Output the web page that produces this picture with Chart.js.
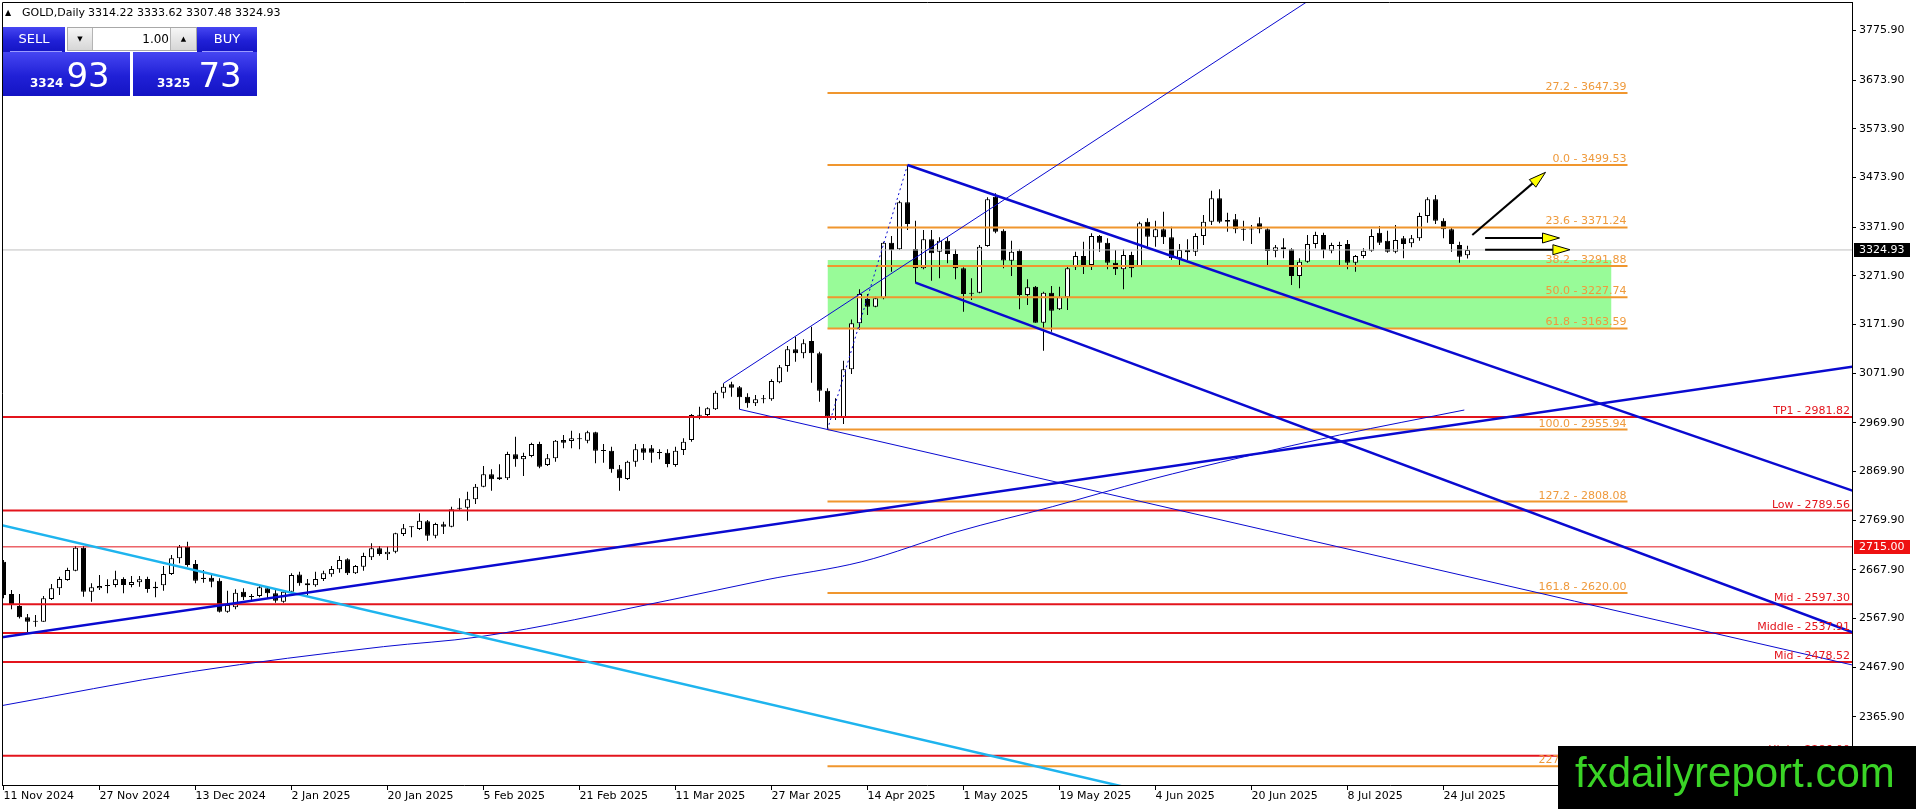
<!DOCTYPE html>
<html><head><meta charset="utf-8">
<script src="https://cdn.jsdelivr.net/npm/chart.js@4.4.1/dist/chart.umd.min.js"></script>
<style>
html,body{margin:0;padding:0;background:#fff;overflow:hidden;}
#wrap{position:relative;width:1916px;height:809px;font-family:"DejaVu Sans",sans-serif;}
canvas{display:block;position:absolute;left:0;top:0;}
.abs{position:absolute;}
.bx{position:absolute;background:linear-gradient(to bottom,#4646f2 0%,#2020d6 55%,#1414c4 100%);}
.wt{color:#fff;}
</style></head><body>
<div id="wrap">
<canvas id="c" width="1916" height="809"></canvas>
<div class="abs" style="left:5px;top:6px;font-size:8px;line-height:14px;">▲</div>
<div class="abs" style="left:22px;top:6px;font-size:11px;line-height:14px;white-space:nowrap;">GOLD,Daily</div>
<div class="abs" style="left:88px;top:6px;font-size:11px;line-height:14px;white-space:nowrap;">3314.22 3333.62 3307.48 3324.93</div>
<div class="bx" style="left:3px;top:27px;width:62px;height:25px;"></div>
<div class="bx" style="left:197px;top:27px;width:60px;height:25px;"></div>
<div class="bx" style="left:3px;top:52px;width:127px;height:44px;"></div>
<div class="bx" style="left:133px;top:52px;width:124px;height:44px;"></div>
<div class="abs" style="left:10px;top:51px;width:52px;height:1px;background:#9a9aff;"></div>
<div class="abs" style="left:202px;top:51px;width:51px;height:1px;background:#9a9aff;"></div>
<div class="abs wt" style="left:3px;top:27px;width:62px;height:24px;line-height:24px;text-align:center;font-size:13px;">SELL</div>
<div class="abs wt" style="left:197px;top:27px;width:60px;height:24px;line-height:24px;text-align:center;font-size:13px;">BUY</div>
<div class="abs" style="left:67px;top:27px;width:128px;height:22px;background:#fff;border:1px solid #a8a8a8;">
  <div class="abs" style="left:0;top:0;width:24px;height:22px;background:linear-gradient(#f6f6f6,#d6d6d6);border-right:1px solid #b4b4b4;text-align:center;font-size:7px;line-height:22px;">▼</div>
  <div class="abs" style="left:25px;top:0;width:76px;height:22px;text-align:right;font-size:12px;line-height:22px;">1.00</div>
  <div class="abs" style="right:0;top:0;width:25px;height:22px;background:linear-gradient(#f6f6f6,#d6d6d6);border-left:1px solid #b4b4b4;text-align:center;font-size:7px;line-height:22px;">▲</div>
</div>
<div class="abs wt" style="left:30px;top:58px;height:34px;line-height:34px;display:flex;align-items:baseline;white-space:nowrap;"><span style="font-size:12px;font-weight:bold;margin-right:3px;">3324</span><span style="font-size:34px;">93</span></div>
<div class="abs wt" style="left:157px;top:58px;height:34px;line-height:34px;display:flex;align-items:baseline;white-space:nowrap;"><span style="font-size:12px;font-weight:bold;margin-right:8px;">3325</span><span style="font-size:34px;">73</span></div>
</div>
<script>
// ---------------- DATA ----------------
const dateLabels = ['11 Nov 2024','27 Nov 2024','13 Dec 2024','2 Jan 2025','20 Jan 2025','5 Feb 2025','21 Feb 2025','11 Mar 2025','27 Mar 2025','14 Apr 2025','1 May 2025','19 May 2025','4 Jun 2025','20 Jun 2025','8 Jul 2025','24 Jul 2025'];
const barsPerLabel = 12;

const opens = [
2684.6,2618.2,2593.5,2570.2,2563.4,2561.3,2607.9,2629.8,2646.9,2666.1,
2713.3,2622.9,2629.8,2636.6,2636.6,2648.9,2636.6,2642.1,2648.9,2633.2,
2635.9,2659.2,2691.4,2715.4,2679.8,2651.7,2651.7,2645.5,2581.8,2590.7,
2622.9,2613.3,2614.0,2629.8,2619.6,2602.4,2622.9,2658.0,2640.0,2636.0,
2649.0,2658.5,2668.8,2689.3,2660.6,2674.3,2693.5,2711.9,2699.6,2705.0,
2741.4,2756.5,2751.7,2767.4,2738.0,2761.2,2756.5,2795.5,2795.5,2812.6,
2838.6,2864.0,2853.7,2855.8,2905.1,2894.8,2901.6,2926.3,2883.1,2896.8,
2934.5,2932.4,2936.0,2933.1,2950.2,2912.0,2912.6,2874.2,2854.4,2889.9,
2917.4,2917.4,2908.5,2908.5,2883.1,2913.9,2934.5,2984.5,2985.9,2997.5,
3031.7,3048.8,3042.7,3023.5,3009.8,3018.0,3018.0,3053.0,3086.5,3120.8,
3112.5,3137.9,3112.5,3035.8,2982.4,2981.0,3079.7,3174.2,3224.2,3208.4,
3225.5,3339.9,3326.2,3422.8,3327.0,3287.2,3346.7,3321.4,3344.0,3316.6,
3287.2,3237.2,3237.2,3333.0,3434.4,3364.5,3302.9,3323.4,3232.4,3249.5,
3175.5,3237.2,3202.9,3227.6,3289.2,3312.5,3294.0,3353.6,3339.9,3298.8,
3285.1,3314.5,3291.9,3383.0,3350.8,3367.3,3350.8,3307.7,3324.8,3321.4,
3353.6,3383.0,3431.0,3386.4,3387.8,3367.3,3367.3,3379.6,3367.3,3322.8,
3330.3,3326.2,3271.4,3300.8,3337.1,3355.6,3323.4,3333.0,3337.1,3298.8,
3312.5,3323.4,3360.4,3344.0,3321.4,3348.8,3338.5,3348.8,3394.7,3428.9,
3385.1,3367.3,3335.1,3314.22];

const highs = [
2688.0,2626.4,2618.2,2577.1,2575.0,2614.0,2638.7,2653.7,2672.2,2716.8,
2716.8,2640.1,2657.2,2648.3,2666.1,2652.4,2655.1,2655.1,2653.7,2643.5,
2675.7,2698.3,2718.8,2725.7,2688.0,2667.4,2657.2,2650.3,2625.0,2627.7,
2629.8,2618.2,2634.6,2634.6,2626.4,2625.0,2660.6,2664.0,2649.0,2664.0,
2666.0,2675.6,2696.2,2691.4,2677.7,2703.0,2722.2,2716.7,2715.4,2744.1,
2761.9,2757.0,2783.8,2770.2,2764.7,2766.7,2797.6,2814.7,2828.4,2844.1,
2881.1,2874.2,2884.5,2910.5,2941.4,2908.5,2929.0,2931.1,2905.8,2934.5,
2944.8,2953.6,2948.2,2953.6,2951.6,2926.3,2920.8,2883.1,2892.0,2926.3,
2926.3,2924.2,2915.3,2915.3,2920.8,2937.9,2987.9,3003.0,3001.6,3035.8,
3050.9,3054.3,3045.4,3030.4,3026.9,3026.9,3059.1,3088.6,3127.6,3146.8,
3141.3,3167.3,3115.9,3040.6,3020.1,3097.5,3182.0,3244.0,3234.4,3229.0,
3341.9,3353.6,3426.2,3499.5,3385.1,3365.9,3365.9,3350.8,3350.8,3326.2,
3289.2,3266.6,3335.1,3433.0,3441.2,3367.3,3344.0,3326.2,3264.5,3250.8,
3239.2,3250.8,3249.5,3290.6,3321.4,3341.9,3359.1,3355.6,3348.8,3324.8,
3326.2,3321.4,3383.0,3389.9,3385.1,3403.6,3372.8,3337.1,3346.7,3359.1,
3396.7,3446.7,3449.4,3401.5,3398.8,3385.1,3376.2,3391.9,3369.3,3335.1,
3348.8,3328.2,3307.7,3355.6,3362.5,3360.4,3339.9,3341.9,3345.4,3314.5,
3328.2,3367.3,3374.1,3364.5,3376.2,3353.6,3355.6,3401.5,3433.0,3437.8,
3389.9,3371.4,3341.9,3333.62];

const lows = [
2609.2,2586.6,2568.0,2538.7,2551.0,2561.0,2605.8,2616.1,2645.5,2665.0,
2612.7,2602.4,2626.4,2619.6,2631.8,2619.6,2631.8,2633.2,2620.9,2611.3,
2625.0,2657.2,2681.1,2674.3,2640.1,2641.4,2631.8,2580.0,2579.8,2586.6,
2605.8,2605.8,2611.3,2609.2,2600.3,2600.3,2618.2,2635.0,2615.0,2633.0,
2645.0,2653.7,2662.0,2657.2,2659.2,2666.1,2688.0,2696.9,2688.0,2701.7,
2737.3,2734.6,2749.6,2727.7,2732.5,2741.4,2755.1,2789.3,2768.8,2803.0,
2837.3,2830.4,2852.3,2852.3,2879.7,2860.5,2898.9,2876.3,2881.1,2890.0,
2917.4,2917.4,2915.3,2927.7,2886.6,2887.9,2867.4,2830.4,2852.3,2879.7,
2893.4,2887.9,2894.8,2878.3,2879.7,2903.7,2931.1,2977.0,2983.8,2996.1,
3020.1,3023.5,2997.5,3000.9,3004.3,3009.8,3015.3,3050.9,3074.9,3095.4,
3102.3,3052.3,3013.2,2956.4,2975.6,2967.4,3070.1,3160.5,3191.3,3207.0,
3223.5,3280.3,3324.8,3366.0,3257.7,3285.1,3261.8,3266.6,3297.4,3264.5,
3198.1,3222.1,3235.8,3331.6,3359.1,3287.2,3271.4,3202.9,3211.8,3175.5,
3118.0,3157.0,3201.5,3201.5,3283.7,3275.5,3283.7,3321.4,3285.1,3273.4,
3244.0,3268.7,3290.6,3331.7,3331.7,3337.1,3304.3,3294.0,3304.3,3312.5,
3335.1,3376.2,3379.6,3362.5,3359.1,3344.0,3337.1,3359.1,3294.0,3309.7,
3307.7,3252.9,3246.1,3298.8,3328.2,3307.7,3318.0,3294.0,3285.1,3280.3,
3307.7,3321.4,3335.1,3319.3,3318.0,3307.7,3330.3,3344.0,3380.9,3378.2,
3348.8,3321.4,3298.8,3307.48];

const closes = [
2616.1,2597.6,2570.2,2561.3,2561.3,2609.2,2629.8,2648.9,2667.4,2713.3,
2622.9,2631.8,2634.6,2634.6,2648.3,2636.6,2642.8,2648.3,2628.4,2629.8,
2659.2,2691.4,2715.4,2677.7,2645.5,2648.9,2643.5,2581.8,2595.5,2620.9,
2611.3,2612.0,2631.8,2619.6,2604.4,2622.9,2657.2,2640.0,2636.0,2649.0,
2660.6,2669.5,2688.0,2660.6,2675.6,2696.2,2711.9,2700.3,2705.0,2742.8,
2753.0,2755.1,2768.8,2738.0,2761.9,2756.5,2792.1,2793.4,2812.6,2838.6,
2864.0,2853.7,2857.8,2905.8,2894.8,2901.6,2926.3,2879.7,2896.8,2933.1,
2929.0,2937.9,2935.9,2950.2,2912.6,2912.6,2874.2,2855.7,2889.9,2915.3,
2908.5,2908.5,2908.0,2885.2,2912.6,2931.0,2985.9,2985.9,2999.5,3031.7,
3044.1,3042.0,3022.1,3009.8,3018.0,3018.5,3055.7,3083.8,3120.8,3112.5,
3133.1,3112.5,3035.8,2982.4,2981.0,3079.7,3174.2,3234.4,3208.4,3225.5,
3339.9,3324.8,3422.8,3378.2,3287.2,3346.7,3318.0,3344.0,3316.6,3287.2,
3234.4,3235.0,3331.6,3428.9,3362.5,3303.0,3321.4,3232.4,3248.1,3175.5,
3237.2,3200.2,3227.6,3287.2,3312.5,3294.0,3353.6,3339.9,3298.8,3285.1,
3314.5,3287.2,3379.6,3352.2,3367.3,3350.8,3307.7,3324.8,3320.0,3353.6,
3383.0,3431.0,3383.0,3383.0,3367.3,3366.5,3366.8,3367.3,3322.8,3330.3,
3326.2,3271.4,3300.8,3337.1,3355.6,3324.8,3335.1,3333.5,3298.8,3312.5,
3323.4,3353.6,3339.9,3321.4,3345.4,3337.1,3348.8,3394.7,3428.9,3385.1,
3367.3,3337.1,3311.1,3324.93];

const yTickValues = [3775.90,3673.90,3573.90,3473.90,3371.90,3271.90,3171.90,3071.90,2969.90,2869.90,2769.90,2667.90,2567.90,2467.90,2365.90];

const fibRatios = ['27.2','0.0','23.6','38.2','50.0','61.8','100.0','127.2','161.8','227.2'];
const fibPrices = [3647.39,3499.53,3371.24,3291.88,3227.74,3163.59,2955.94,2808.08,2620.00,2264.49];
const fibRange = [103, 203];
const zoneRange = [103, 201];
const zonePrices = [3304.3, 3163.59];

const levelNames = ['TP1','Low','Mid','Middle','Mid','High'];
const levelPrices = [2981.82,2789.56,2597.30,2537.91,2478.52,2286.00];
const markerPrice = 2715.00;

const channelTop = [[113,3499.53],[232,2825.5]];
const channelBottom = [[114,3257.7],[232,2534.0]];
const risingSupport = [[-1,2527.2],[232,3087.3]];
const thinRising = [[90,3051.0],[165,3857.0]];
const thinFalling = [[92,2997.6],[232,2468.9]];
const curveLine = [[-1,2386.5],[23.5,2458.5],[47.5,2510.0],[59.4,2530.0],[83.3,2605.8],[95.3,2647.3],[107.3,2684.5],[119.2,2746.1],[131.1,2797.5],[143.1,2852.3],[155.1,2900.2],[167.0,2944.8],[182.6,2996.1]];
const cyanLine = [[-1,2762.3],[150,2184.0]];
const fibSwing = [[103,2955.94],[113,3499.53]];

const arrowUp = [[183.6,3355.6],[192.75,3484.4]];
const arrowMid = [[185.2,3349.5],[194.5,3349.5]];
const arrowLow = [[185.2,3325.4],[195.8,3325.4]];

// ---------------- STYLE ----------------
const FONT = '"DejaVu Sans", sans-serif';
const RED = '#e3141c';
const FIB = '#f0962e';
const FIB_TEXT = '#ef9a3c';
const BLUE = '#0a0ad0';
const CYAN = '#1eb4ee';

Chart.defaults.font.family = FONT;
Chart.defaults.font.size = 11;
Chart.defaults.color = '#000';

const last = closes.length - 1;
const xMinV = -0.1875, xMaxV = 231.0625;
const pts = a => a.map(p => ({x: p[0], y: p[1]}));
const hline = (p, a, b) => [{x: a, y: p}, {x: b, y: p}];
const lineDs = (data, color, width, order, extra) => Object.assign({
  type: 'line', data, borderColor: color, borderWidth: width, pointRadius: 0,
  fill: false, tension: 0, order, clip: 0
}, extra || {});

const idx = opens.map((_, i) => i);
const datasets = [];
datasets.push(lineDs(hline(zonePrices[0], zoneRange[0], zoneRange[1]), 'rgba(0,0,0,0)', 0, 30,
  {fill: {value: zonePrices[1]}, backgroundColor: '#98fb98'}));
datasets.push({
  type: 'bar', data: idx.map(i => ({x: i, y: [lows[i], highs[i]]})),
  backgroundColor: '#000', borderWidth: 0, barThickness: 1, grouped: false,
  inflateAmount: 0, order: 21, clip: 0
});
datasets.push({
  type: 'bar', data: idx.map(i => ({x: i, y: [opens[i], closes[i]]})),
  backgroundColor: idx.map(i => closes[i] >= opens[i] ? '#ffffff' : '#000000'),
  borderColor: '#000', borderWidth: 1, borderSkipped: false, barThickness: 5,
  grouped: false, inflateAmount: 0, minBarLength: 1, order: 20, clip: 0
});
fibPrices.forEach(p => datasets.push(lineDs(hline(p, fibRange[0], fibRange[1]), FIB, 2, 10)));
levelPrices.forEach(p => datasets.push(lineDs(hline(p, -1, 233), RED, 2, 10)));
datasets.push(lineDs(hline(markerPrice, -1, 233), RED, 1, 10));
datasets.push(lineDs(hline(closes[last], -1, 233), '#c0c0c0', 1, 11));
datasets.push(lineDs(pts(curveLine), BLUE, 1, 5, {cubicInterpolationMode: 'monotone'}));
datasets.push(lineDs(pts(thinRising), BLUE, 1, 5));
datasets.push(lineDs(pts(thinFalling), BLUE, 1, 5));
datasets.push(lineDs(pts(cyanLine), CYAN, 2.5, 4));
datasets.push(lineDs(pts(risingSupport), BLUE, 2.5, 3));
datasets.push(lineDs(pts(channelTop), BLUE, 2.5, 3));
datasets.push(lineDs(pts(channelBottom), BLUE, 2.5, 3));
datasets.push(lineDs(pts(fibSwing), BLUE, 1, 3, {borderDash: [2, 3]}));

const annot = {
  id: 'annot',
  afterDatasetsDraw(chart) {
    const {ctx, chartArea: ca, scales: {x, y}} = chart;
    ctx.save();
    ctx.beginPath();
    ctx.rect(ca.left, ca.top, ca.right - ca.left, ca.bottom - ca.top);
    ctx.clip();
    ctx.font = '11px ' + FONT;
    ctx.textAlign = 'right';
    ctx.textBaseline = 'alphabetic';
    const fx = x.getPixelForValue(fibRange[1]) - 1;
    fibRatios.forEach((r, k) => {
      ctx.fillStyle = FIB_TEXT;
      ctx.fillText(r + ' - ' + fibPrices[k].toFixed(2), fx, Math.round(y.getPixelForValue(fibPrices[k])) - 3);
    });
    levelNames.forEach((n, k) => {
      ctx.fillStyle = RED;
      ctx.fillText(n + ' - ' + levelPrices[k].toFixed(2), ca.right - 2, Math.round(y.getPixelForValue(levelPrices[k])) - 3);
    });
    [arrowUp, arrowMid, arrowLow].forEach(a => {
      const x1 = x.getPixelForValue(a[0][0]), y1 = y.getPixelForValue(a[0][1]);
      const x2 = x.getPixelForValue(a[1][0]), y2 = y.getPixelForValue(a[1][1]);
      const ang = Math.atan2(y2 - y1, x2 - x1), L = 17, W = 5;
      const c = Math.cos(ang), s = Math.sin(ang);
      const bx = x2 - L * c, by = y2 - L * s;
      ctx.strokeStyle = '#000';
      ctx.lineWidth = 2;
      ctx.beginPath(); ctx.moveTo(x1, y1); ctx.lineTo(bx, by); ctx.stroke();
      ctx.beginPath();
      ctx.moveTo(x2, y2);
      ctx.lineTo(bx - W * s, by + W * c);
      ctx.lineTo(bx + W * s, by - W * c);
      ctx.closePath();
      ctx.fillStyle = '#ffff00';
      ctx.fill();
      ctx.lineWidth = 1;
      ctx.stroke();
    });
    ctx.restore();
  },
  afterDraw(chart) {
    const {ctx, chartArea: ca, scales: {y}} = chart;
    ctx.save();
    ctx.strokeStyle = '#000';
    ctx.lineWidth = 1;
    ctx.beginPath();
    ctx.moveTo(ca.left + 0.5, ca.bottom);
    ctx.lineTo(ca.left + 0.5, ca.top + 0.5);
    ctx.lineTo(ca.right, ca.top + 0.5);
    ctx.stroke();
    ctx.font = '11px ' + FONT;
    ctx.textAlign = 'left';
    ctx.textBaseline = 'middle';
    const box = (price, bg) => {
      const py = Math.round(y.getPixelForValue(price));
      ctx.fillStyle = bg;
      ctx.fillRect(ca.right + 2, py - 7, 56, 14);
      ctx.fillStyle = '#fff';
      ctx.fillText(price.toFixed(2), ca.right + 7, py + 0.5);
    };
    box(closes[last], '#000');
    box(markerPrice, '#ee1111');
    // watermark
    ctx.fillStyle = '#000';
    ctx.fillRect(1558, 746, 358, 63);
    ctx.fillStyle = '#3ad426';
    ctx.font = '42px "Liberation Sans", Arial, sans-serif';
    ctx.textBaseline = 'alphabetic';
    ctx.fillText('fxdailyreport.com', 1575, 787);
    ctx.restore();
  }
};

new Chart(document.getElementById('c'), {
  type: 'bar',
  data: {datasets},
  options: {
    responsive: false,
    animation: false,
    devicePixelRatio: 1,
    events: [],
    layout: {padding: {left: 2, top: 2, right: 0, bottom: 0}},
    plugins: {legend: {display: false}, tooltip: {enabled: false}},
    scales: {
      x: {
        type: 'linear', position: 'bottom', min: xMinV, max: xMaxV, offset: false, bounds: 'data',
        grid: {display: true, drawOnChartArea: false, drawTicks: true, tickLength: 5, color: '#000', offset: false},
        border: {display: true, color: '#000', width: 1},
        afterBuildTicks: s => { s.ticks = dateLabels.map((_, k) => ({value: k * barsPerLabel})); },
        afterFit: s => { s.height = 24; s.paddingLeft = 0; s.paddingRight = 0; },
        ticks: {
          autoSkip: false, maxRotation: 0, minRotation: 0, align: 'start', padding: 0, color: '#000',
          font: {size: 11, family: FONT},
          callback: v => dateLabels[Math.round(v / barsPerLabel)]
        }
      },
      y: {
        type: 'linear', position: 'right', min: 2225.77, max: 3834.29, bounds: 'data',
        grid: {display: true, drawOnChartArea: false, drawTicks: true, tickLength: 4, color: '#000'},
        border: {display: true, color: '#000', width: 1},
        afterBuildTicks: s => { s.ticks = yTickValues.map(v => ({value: v})); },
        afterFit: s => { s.width = 64; s.paddingTop = 0; s.paddingBottom = 0; },
        ticks: {padding: 3, color: '#000', font: {size: 11, family: FONT}, callback: v => v.toFixed(2)}
      }
    }
  },
  plugins: [annot]
});
</script>
</body></html>
